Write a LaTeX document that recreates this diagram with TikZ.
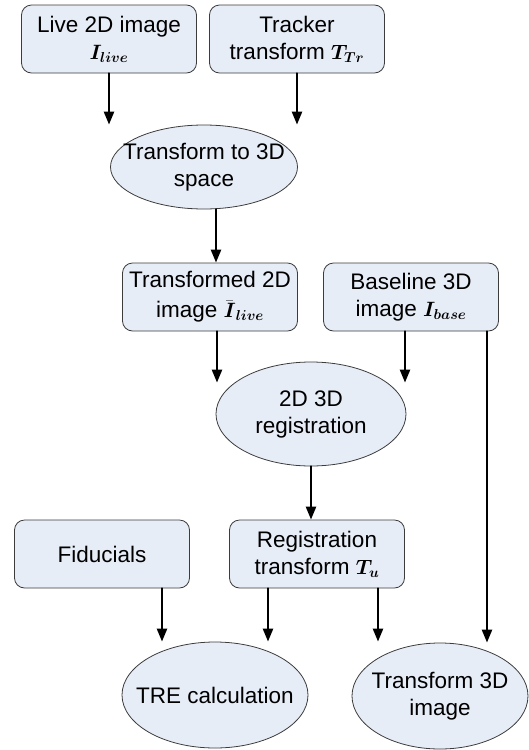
\documentclass[tikz,border=0pt]{standalone}
\usepackage{amsmath}
\usepackage{fontspec}
\setmainfont{Liberation Sans}
\usetikzlibrary{arrows.meta,shapes.geometric}
\definecolor{boxblue}{RGB}{231,237,247}
\definecolor{edgegray}{RGB}{60,60,60}

\begin{document}
\begin{tikzpicture}[x=1pt,y=-1pt,line cap=round,
	every node/.style={font=\fontsize{22.5}{27}\selectfont,align=center,inner sep=0pt},
	datbox/.style={rectangle,rounded corners=10pt,draw=edgegray,line width=0.8pt,fill=boxblue,minimum width=175pt,minimum height=68pt},
	procoval/.style={ellipse,draw=edgegray,line width=0.8pt,fill=boxblue},
	arr/.style={line width=2.4pt,-{Triangle[length=13pt,width=10pt]}}]
			\useasboundingbox (0,0) rectangle (528,750);
			\node[datbox] (live) at (109,39) {Live 2D image\\$\boldsymbol{I_{live}}$};
			\node[datbox] (tracker) at (297,39) {Tracker\\transform $\boldsymbol{T_{Tr}}$};
			\node[procoval,minimum width=187pt,minimum height=84pt,label={center:Transform to 3D\\space}] (tts) at (204,167) {};
			\node[datbox] (tlive) at (210,297) {Transformed 2D\\[3pt]image $\bar{\boldsymbol{I}}_{\boldsymbol{live}}$};
			\node[datbox] (base) at (411,297) {Baseline 3D\\image $\boldsymbol{I_{base}}$};
			\node[procoval,minimum width=190pt,minimum height=104pt,label={center:2D 3D\\registration}] (reg) at (311,414) {};
			\node[datbox] (fid) at (102,554) {Fiducials};
			\node[datbox] (regt) at (317,554) {Registration\\transform $\boldsymbol{T_u}$};
			\node[procoval,minimum width=186pt,minimum height=106pt,label={center:TRE calculation}] (tre) at (215,695) {};
			\node[procoval,minimum width=176pt,minimum height=106pt,label={center:Transform 3D\\image}] (t3d) at (440,696) {};
			\coordinate (regtop) at ([yshift=-21pt]reg.north);
			\foreach \n in {live,tracker}
			\draw[arr] (\n.south) -- (\n.south |- tts.north);
			\draw[arr] ([xshift=12pt]tts.south) -- ([xshift=12pt]tts.south |- tlive.north);
			\foreach \n/\s in {tlive/7,base/-6}
			\draw[arr] ([xshift=\s pt]\n.south) -- ([xshift=\s pt]\n.south |- regtop);
			\draw[arr] ([xshift=76pt]base.south) -- ([xshift=76pt]base.south |- t3d.north);
			\draw[arr] (reg.south) -- (reg.south |- regt.north);
			\foreach \n/\s in {fid/60,regt/-49,regt/61}
			\draw[arr] ([xshift=\s pt]\n.south) -- ([xshift=\s pt]\n.south |- tre.north);
		\end{tikzpicture}
\end{document}
